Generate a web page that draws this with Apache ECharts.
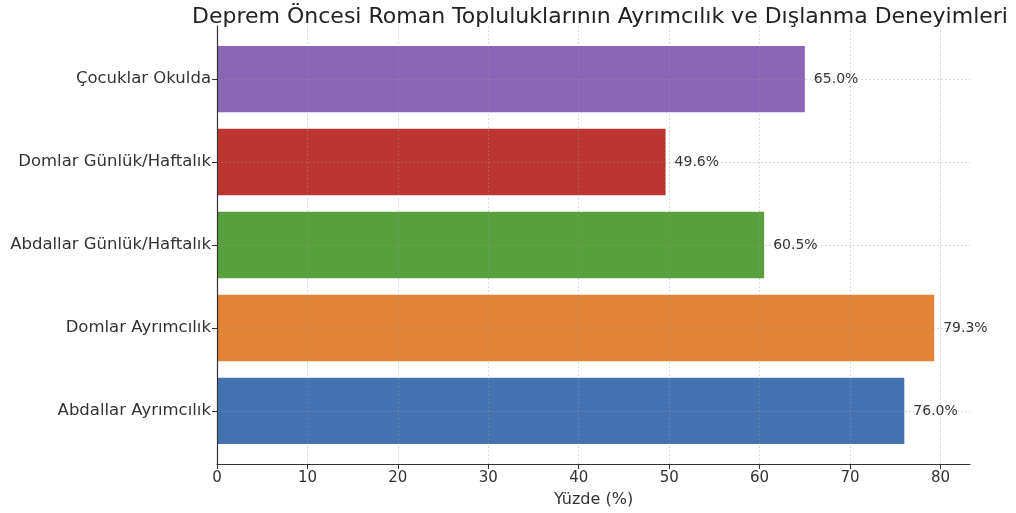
<!DOCTYPE html>
<html>
<head>
<meta charset="utf-8">
<script src="https://cdn.jsdelivr.net/npm/echarts@6/dist/echarts.min.js"></script>
<style>
html,body{margin:0;padding:0;background:#fff;}
#chart{width:1016px;height:513px;}
</style>
</head>
<body>
<div id="chart"></div>
<script>
const categories = ["Abdallar Ayrımcılık", "Domlar Ayrımcılık", "Abdallar Günlük/Haftalık", "Domlar Günlük/Haftalık", "Çocuklar Okulda"];
const values = [76.0, 79.3, 60.5, 49.6, 65.0];
const barColors = ["#4472b0", "#e28335", "#58a03d", "#bc3631", "#8b65b6"];
const xTicks = [0, 10, 20, 30, 40, 50, 60, 70, 80];
const titleText = "Deprem Öncesi Roman Topluluklarının Ayrımcılık ve Dışlanma Deneyimleri";
const xName = "Yüzde (%)";

const FONT = "DejaVu Sans";
const yIdx = categories.map((c, i) => i);
const data = values.map((v, i) => [v, i]);

const chart = echarts.init(document.getElementById('chart'), null, {renderer: 'canvas'});
const gridLine = {show: true, lineStyle: {color: 'rgba(150,150,150,0.45)', type: [2, 2], width: 0.8}};
chart.setOption({
  animation: false,
  title: {
    text: titleText,
    left: 595, top: 1, textAlign: 'center',
    textStyle: {fontFamily: FONT, fontSize: 22, fontWeight: 'normal', color: '#222'}
  },
  grid: {left: 217, right: 46, top: 26, bottom: 45, containLabel: false},
  xAxis: {
    type: 'value', min: 0, max: 83.265, z: 3,
    name: xName, nameLocation: 'middle', nameGap: 28,
    nameTextStyle: {fontFamily: FONT, fontSize: 16, color: '#333'},
    axisLine: {show: true, onZero: false, lineStyle: {color: '#333', width: 1.2}},
    axisTick: {show: true, length: 5, lineStyle: {color: '#333'}, customValues: xTicks},
    axisLabel: {fontFamily: FONT, fontSize: 15, color: '#333', margin: 7, customValues: xTicks},
    splitLine: gridLine
  },
  yAxis: {
    type: 'value', min: -0.64, max: 4.64, z: 3,
    axisLine: {show: true, onZero: false, lineStyle: {color: '#333', width: 1.2}},
    axisTick: {show: true, length: 5, lineStyle: {color: '#333'}, customValues: yIdx},
    axisLabel: {fontFamily: FONT, fontSize: 16.5, color: '#333', margin: 6, customValues: yIdx,
      formatter: v => categories[Math.round(v)] || ''},
    splitLine: gridLine
  },
  series: [{
    type: 'custom', z: 2,
    data: data,
    encode: {x: 0, y: 1},
    renderItem: function (params, api) {
      const v = api.value(0), i = api.value(1);
      const s = api.coord([0, i]);
      const e = api.coord([v, i]);
      const h = api.size([0, 0.8])[1];
      const lp = api.coord([v + 1, i]);
      return {
        type: 'group',
        children: [{
          type: 'rect',
          shape: {x: s[0], y: s[1] - h / 2, width: e[0] - s[0], height: h},
          style: {fill: barColors[i]}
        }, {
          type: 'text', z2: 10,
          style: {x: lp[0], y: lp[1], text: v.toFixed(1) + '%', align: 'left', verticalAlign: 'middle',
            fill: '#333', font: '14px "DejaVu Sans"'}
        }]
      };
    }
  }]
});
</script>
</body>
</html>
